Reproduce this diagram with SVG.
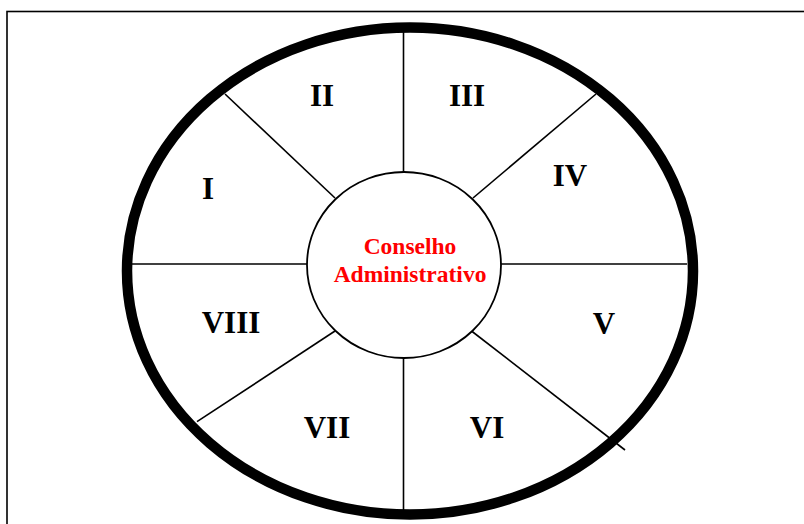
<svg xmlns="http://www.w3.org/2000/svg" width="804" height="524" viewBox="0 0 804 524">
<style>
.spoke{stroke:#000;stroke-width:1.6;fill:none}
.lbl{font-family:"Liberation Serif","Times New Roman",serif;font-weight:bold;font-size:31px;fill:#000;text-anchor:middle}
.ctr{font-family:"Liberation Serif","Times New Roman",serif;font-weight:bold;font-size:23.5px;fill:#ff0000;text-anchor:middle}
</style>
<rect x="0" y="0" width="804" height="524" fill="#fff"/>
<rect x="7" y="11.5" width="810" height="530" fill="none" stroke="#000" stroke-width="1.6"/>
<g id="connectors">
<line class="spoke" x1="403.5" y1="32" x2="403.5" y2="172"/>
<line class="spoke" x1="403.5" y1="358" x2="403.5" y2="510"/>
<line class="spoke" x1="132" y1="264" x2="307" y2="264"/>
<line class="spoke" x1="501" y1="264" x2="687" y2="264"/>
<line class="spoke" x1="225" y1="94" x2="335" y2="198"/>
<line class="spoke" x1="596" y1="94" x2="473" y2="198"/>
<line class="spoke" x1="197" y1="421.7" x2="335" y2="331"/>
<line class="spoke" x1="471.5" y1="331" x2="625" y2="450"/>
</g>
<g id="outer-ring">
<ellipse cx="410" cy="271" rx="283" ry="243.5" fill="none" stroke="#000" stroke-width="10.5"/>
</g>
<g id="center">
<ellipse cx="404" cy="265" rx="97" ry="93" fill="#fff" stroke="#000" stroke-width="1.8"/>
<text class="ctr" x="410" y="254">Conselho</text>
<text class="ctr" x="410" y="281.5">Administrativo</text>
</g>
<g id="sector-I"><text class="lbl" x="208" y="199">I</text></g>
<g id="sector-II"><text class="lbl" x="322" y="106">II</text></g>
<g id="sector-III"><text class="lbl" x="467" y="106">III</text></g>
<g id="sector-IV"><text class="lbl" x="570" y="186">IV</text></g>
<g id="sector-V"><text class="lbl" x="604" y="334">V</text></g>
<g id="sector-VI"><text class="lbl" x="487" y="438">VI</text></g>
<g id="sector-VII"><text class="lbl" x="327" y="438">VII</text></g>
<g id="sector-VIII"><text class="lbl" x="231" y="333">VIII</text></g>
</svg>
